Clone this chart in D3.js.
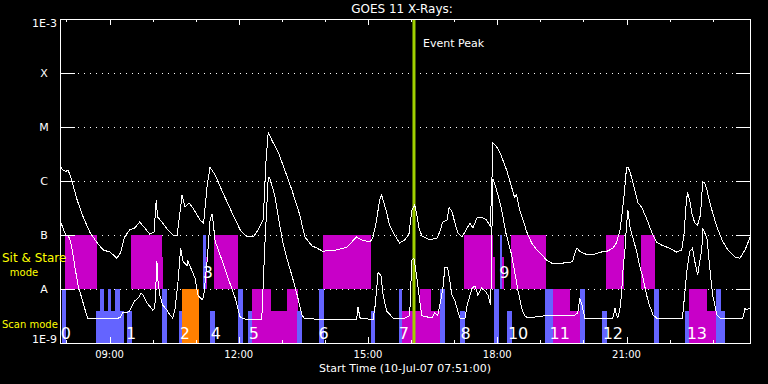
<!DOCTYPE html>
<html>
<head>
<meta charset="utf-8">
<script src="https://cdn.jsdelivr.net/npm/d3@7"></script>
<style>
body { margin: 0; background: #000; }
svg { display: block; }
text { font-family: "DejaVu Sans", sans-serif; fill: #fff; }
</style>
</head>
<body>
<script>
var startTime = "07:51", endTime = "23:52";
var eventTime = "16:04";

var fluxLevels = [1e-3, 1e-4, 1e-5, 1e-6, 1e-7, 1e-8, 1e-9];
var fluxNames = ["1E-3", "X", "M", "C", "B", "A", "1E-9"];

// GOES long channel (upper curve)
var longChannel = [
  ["07:51",1.9e-6],["07:55",1.6e-6],["07:59",1.5e-6],["08:02",1.6e-6],["08:05",1.3e-6],
  ["08:15",4.4e-7],["08:23",2.2e-7],["08:33",1.1e-7],["08:43",7.1e-8],["08:51",5.3e-8],
  ["09:01",4.8e-8],["09:05",4.3e-8],["09:10",3.7e-8],["09:15",4.6e-8],["09:21",9.2e-8],
  ["09:28",1.24e-7],["09:35",1.35e-7],["09:42",1.74e-7],["09:49",1.35e-7],["09:56",1.04e-7],
  ["10:02",1.14e-7],["10:05",4.4e-7],["10:07",2.15e-7],["10:14",1.67e-7],["10:21",1.24e-7],
  ["10:28",1.0e-7],["10:34",9.6e-8],["10:41",5.5e-7],["10:45",3.3e-7],["10:51",3.9e-7],
  ["10:56",3.2e-7],["11:06",1.9e-7],["11:11",1.67e-7],["11:16",8.4e-7],["11:20",1.8e-6],
  ["11:27",1.3e-6],["11:38",6.0e-7],["11:52",2.35e-7],["12:02",1.24e-7],["12:11",9.2e-8],
  ["12:20",9.2e-8],["12:27",1.24e-7],["12:34",1.9e-7],["12:38",2.45e-6],["12:41",8.1e-6],
  ["12:46",5.7e-6],["12:55",3.4e-6],["13:04",1.6e-6],["13:14",6.8e-7],["13:25",2.35e-7],
  ["13:32",9.2e-8],["13:42",6.3e-8],["13:49",5.7e-8],["13:57",5.0e-8],["14:17",5.3e-8],
  ["14:31",6.0e-8],["14:40",8.1e-8],["14:44",9.2e-8],["14:51",8.1e-8],["15:03",7.4e-8],
  ["15:07",9.2e-8],["15:12",1.9e-7],["15:16",4.4e-7],["15:19",5.5e-7],["15:25",2.9e-7],
  ["15:30",1.53e-7],["15:37",1.0e-7],["15:44",7.1e-8],["15:51",8.1e-8],["15:57",1.04e-7],
  ["16:01",2.9e-7],["16:05",3.6e-7],["16:08",2.35e-7],["16:11",1.35e-7],["16:15",9.6e-8],
  ["16:26",8.1e-8],["16:36",8.8e-8],["16:40",1.14e-7],["16:44",1.74e-7],["16:50",1.9e-7],
  ["16:53",3.2e-7],["16:57",2.7e-7],["17:01",1.67e-7],["17:05",1.09e-7],["17:11",9.2e-8],
  ["17:15",1.14e-7],["17:22",1.67e-7],["17:26",1.35e-7],["17:32",2.1e-7],["17:38",2.15e-7],
  ["17:45",1.9e-7],["17:50",1.47e-7],["17:52",5.5e-7],["17:54",5.0e-6],["17:59",4.3e-6],
  ["18:04",3.3e-6],["18:13",1.6e-6],["18:20",7.7e-7],["18:24",5.0e-7],["18:27",5.5e-7],
  ["18:31",2.9e-7],["18:36",1.9e-7],["18:41",1.14e-7],["18:48",7.1e-8],["18:55",5.3e-8],
  ["19:02",4.3e-8],["19:09",3.4e-8],["19:16",3.0e-8],["19:30",3.0e-8],["19:45",3.2e-8],
  ["19:48",4.6e-8],["19:51",5.7e-8],["19:55",5.0e-8],["20:05",4.3e-8],["20:13",4.3e-8],
  ["20:23",4.8e-8],["20:33",5.0e-8],["20:41",5.7e-8],["20:46",7.1e-8],["20:51",1.24e-7],
  ["20:56",4.4e-7],["21:00",1.74e-6],["21:02",1.82e-6],["21:05",1.47e-6],["21:09",9.2e-7],
  ["21:16",3.9e-7],["21:21",3.3e-7],["21:28",2.0e-7],["21:35",1.14e-7],["21:42",7.4e-8],
  ["21:49",6.5e-8],["22:00",5.7e-8],["22:10",4.8e-8],["22:17",5.3e-8],["22:20",1.0e-7],
  ["22:23",3.6e-7],["22:25",6.3e-7],["22:28",4.4e-7],["22:31",2.55e-7],["22:35",1.67e-7],
  ["22:39",1.53e-7],["22:43",2.35e-7],["22:46",9.2e-7],["22:49",9.2e-7],["22:52",6.8e-7],
  ["22:56",4.1e-7],["23:00",2.55e-7],["23:06",1.41e-7],["23:13",8.1e-8],["23:21",5.3e-8],
  ["23:31",3.9e-8],["23:38",3.7e-8],["23:45",5.3e-8],["23:49",7.1e-8],["23:52",9.2e-8]
];

// GOES short channel (lower curve)
var shortChannel = [
  ["07:51",1.9e-7],["07:55",1.35e-7],["07:59",1.0e-7],["08:02",1.0e-7],["08:05",8.1e-8],
  ["08:08",5.3e-8],["08:12",2.45e-8],["08:16",1.19e-8],["08:22",6.3e-9],["08:26",4.1e-9],
  ["08:30",2.8e-9],["08:47",2.8e-9],["09:10",2.8e-9],["09:15",3.0e-9],["09:19",3.7e-9],
  ["09:23",3.6e-9],["09:28",3.9e-9],["09:35",6.0e-9],["09:40",6.8e-9],["09:44",8.4e-9],
  ["09:47",7.7e-9],["09:52",5.5e-9],["09:56",4.8e-9],["10:00",4.1e-9],["10:03",4.4e-9],
  ["10:05",1.6e-8],["10:06",3.3e-8],["10:07",1.6e-8],["10:10",7.7e-9],["10:14",5.0e-9],
  ["10:20",4.1e-9],["10:24",3.3e-9],["10:28",2.9e-9],["10:31",4.1e-9],["10:35",1.19e-8],
  ["10:39",5.7e-8],["10:42",3.3e-8],["10:48",2.7e-8],["10:49",3.3e-8],["10:55",2.15e-8],
  ["10:59",1.6e-8],["11:03",7.7e-9],["11:09",6.3e-9],["11:11",7.1e-9],["11:16",3.4e-8],
  ["11:20",1.9e-7],["11:23",2.45e-7],["11:24",1.9e-7],["11:27",7.7e-8],["11:30",6.0e-8],
  ["11:37",3.3e-8],["11:45",1.6e-8],["11:55",6.8e-9],["12:02",3.0e-9],["12:11",2.7e-9],
  ["12:32",2.7e-9],["12:36",5.3e-8],["12:41",1.14e-6],["12:43",1.14e-6],["12:50",5.5e-7],
  ["12:57",1.53e-7],["13:01",7.7e-8],["13:08",3.3e-8],["13:15",1.6e-8],["13:22",7.1e-9],
  ["13:28",3.3e-9],["13:32",2.8e-9],["14:44",2.7e-9],["14:46",4.6e-9],["14:49",2.9e-9],
  ["15:07",2.7e-9],["15:10",5.0e-9],["15:14",2.0e-8],["15:18",1.8e-8],["15:21",7.7e-9],
  ["15:26",3.9e-9],["15:35",2.9e-9],["15:51",2.9e-9],["15:58",3.2e-9],["16:01",3.4e-8],
  ["16:04",3.7e-8],["16:08",1.6e-8],["16:12",6.0e-9],["16:15",3.2e-9],["16:29",2.9e-9],
  ["16:33",3.6e-9],["16:37",3.2e-9],["16:44",9.6e-9],["16:47",2.45e-8],["16:51",2.45e-8],
  ["16:57",7.7e-9],["17:01",6.0e-9],["17:05",3.9e-9],["17:08",2.9e-9],["17:15",2.9e-9],
  ["17:18",5.0e-9],["17:25",1.04e-8],["17:29",1.14e-8],["17:33",7.7e-9],["17:38",1.04e-8],
  ["17:43",9.2e-9],["17:47",7.7e-9],["17:51",5.0e-9],["17:52",5.3e-8],["17:54",1.09e-6],
  ["17:59",6.8e-7],["18:04",3.9e-7],["18:08",2.15e-7],["18:12",1.09e-7],["18:15",7.7e-8],
  ["18:20",4.3e-8],["18:24",2.15e-8],["18:29",9.2e-9],["18:34",4.4e-9],["18:38",3.2e-9],
  ["18:43",2.9e-9],["19:06",3.2e-9],["19:45",3.2e-9],["19:48",3.3e-9],["19:52",3.6e-9],
  ["19:55",6.8e-9],["19:58",5.0e-9],["20:02",2.9e-9],["20:41",2.9e-9],["20:44",4.4e-9],
  ["20:46",3.3e-9],["20:48",2.9e-9],["20:51",4.4e-9],["20:53",7.7e-9],["20:55",2.15e-8],
  ["20:58",5.7e-8],["21:00",1.53e-7],["21:02",2.9e-7],["21:05",1.35e-7],["21:09",8.8e-8],
  ["21:14",5.0e-8],["21:18",2.8e-8],["21:23",1.6e-8],["21:28",7.7e-9],["21:32",5.0e-9],
  ["21:37",3.3e-9],["21:42",2.9e-9],["22:18",2.9e-9],["22:24",2.15e-8],["22:28",5.0e-8],
  ["22:32",5.7e-8],["22:35",3.3e-8],["22:39",1.8e-8],["22:45",5.7e-8],["22:46",1.35e-7],
  ["22:52",8.8e-8],["22:56",2.45e-8],["23:00",7.7e-9],["23:06",3.3e-9],["23:10",2.9e-9],
  ["23:42",2.9e-9],["23:45",4.4e-9],["23:47",4.1e-9],["23:52",4.4e-9]
];

// observing blocks: start, end, colour key, height (fraction of band)
var scanBlocks = [
  ["07:54","07:59","b",1],["08:41","09:20","b",0.6],["08:47","08:52","b",1],
  ["08:58","09:02","b",1],["09:08","09:15","b",1],["09:24","09:31","b",0.6],
  ["10:13","10:20","b",1],["10:37","10:41","b",0.6],["10:41","11:05","o",1],
  ["11:20","11:27","b",0.6],["11:59","12:06","b",1],["12:13","12:18","b",0.6],
  ["12:18","12:45","m",1],["12:45","13:07","m",0.6],["13:07","13:22","m",1],
  ["13:21","13:28","b",0.6],["13:52","13:58","b",1],["15:04","15:10","b",0.6],
  ["15:43","15:48","b",1],["15:48","16:12","m",0.6],["16:12","16:28","m",1],
  ["16:28","16:40","m",0.6],["16:40","16:47","b",1],["17:08","17:15","b",0.6],
  ["17:55","18:02","b",1],["18:13","18:20","b",0.6],["19:06","19:17","b",1],
  ["19:17","19:42","m",1],["19:42","19:55","m",0.6],["19:55","20:02","b",1],
  ["20:26","20:33","b",0.6],["21:38","21:45","b",1],["22:21","22:27","b",0.6],
  ["22:27","22:52","m",1],["22:52","23:04","m",0.6],["23:04","23:11","b",1],
  ["23:11","23:17","b",0.6]
];
var stareBlocks = [
  ["07:58","08:42","m",1],["09:30","10:13","m",1],["10:13","10:14","m",0.6],
  ["11:10","11:14","b",1],["11:14","11:16","m",0.6],["11:25","11:59","m",1],
  ["13:57","15:04","m",1],["17:13","17:54","m",1],["17:54","17:57","m",0.6],
  ["18:04","18:06","b",1],["18:06","18:09","m",0.6],["18:19","19:08","m",1],
  ["20:31","20:56","m",1],["21:20","21:39","m",1]
];
var blockColors = { b: "#6464ff", m: "#c800c8", o: "#ff8000" };

var obsNames = ["0","1","2","3","4","5","6","7","8","9","10","11","12","13"];
var obsTimes = ["07:59","09:30","10:45","11:17","11:28","12:21","13:58","15:50",
                "17:16","18:10","18:29","19:27","20:41","22:38"];
var obsInStare = [0,0,0,1,0,0,0,0,0,1,0,0,0,0];

var W = 768, H = 384;
var pL = 60, pR = 750, pT = 19, pB = 343;
var parse = d3.timeParse("%H:%M");

var svg = d3.select("body").append("svg").attr("width", W).attr("height", H);
svg.append("rect").attr("width", W).attr("height", H).attr("fill", "#000");

var x = d3.scaleTime().domain([parse(startTime), parse(endTime)]).range([pL, pR]);
var y = d3.scaleLog().domain([1e-9, 1e-3]).range([pB, pT]);
var band = d3.scaleLinear().domain([0, 2]).range([pB, y(1e-7)]);

function px(t) { return Math.round(x(parse(t))); }
function py(d) { return Math.round(y(d)) + 0.5; }

// dotted grid
var inner = fluxLevels.slice(1, -1);
svg.selectAll(".grid").data(inner).enter().append("line")
  .attr("x1", 78).attr("x2", 736)
  .attr("y1", py).attr("y2", py)
  .attr("stroke", "#fff").attr("stroke-dasharray", "1,5");

// observing blocks
function drawBlocks(data, base) {
  svg.append("g").selectAll("rect").data(data).enter().append("rect")
    .attr("x", function(d) { return px(d[0]); })
    .attr("width", function(d) { return px(d[1]) - px(d[0]); })
    .attr("y", function(d) { return Math.round(band(base + d[3])); })
    .attr("height", function(d) { return Math.round(band(base)) - Math.round(band(base + d[3])); })
    .attr("fill", function(d) { return blockColors[d[2]]; })
    .attr("shape-rendering", "crispEdges");
}
drawBlocks(scanBlocks, 0);
drawBlocks(stareBlocks, 1);

// flux ticks on both sides
svg.selectAll(".ltick").data(inner).enter().append("line")
  .attr("x1", pL).attr("x2", 75).attr("y1", py).attr("y2", py)
  .attr("stroke", "#fff");
svg.selectAll(".rtick").data(inner).enter().append("line")
  .attr("x1", 736).attr("x2", pR).attr("y1", py).attr("y2", py)
  .attr("stroke", "#fff");

// event line
var ex = x(parse(eventTime));
svg.append("line").attr("x1", ex).attr("x2", ex).attr("y1", pT).attr("y2", pB)
  .attr("stroke", "#a0d000").attr("stroke-width", 3);

// light curves
var line = d3.line()
  .x(function(d) { return x(parse(d[0])); })
  .y(function(d) { return y(d[1]); });
[longChannel, shortChannel].forEach(function(s) {
  svg.append("path").datum(s).attr("d", line)
    .attr("fill", "none").attr("stroke", "#fff").attr("stroke-width", 1)
    .attr("shape-rendering", "crispEdges");
});

// frame and time ticks
svg.append("rect").attr("x", pL + 0.5).attr("y", pT + 0.5)
  .attr("width", pR - pL).attr("height", pB - pT)
  .attr("fill", "none").attr("stroke", "#fff");

var hours = x.ticks(d3.timeHour.every(1));
var majors = x.ticks(d3.timeHour.every(3));
function tickLen(d) { return d.getHours() % 3 === 0 ? 6 : 3; }
function tx(d) { return Math.round(x(d)) + 0.5; }
svg.selectAll(".ttick").data(hours).enter().append("line")
  .attr("x1", tx).attr("x2", tx)
  .attr("y1", pT).attr("y2", function(d) { return pT + tickLen(d); })
  .attr("stroke", "#fff");
svg.selectAll(".btick").data(hours).enter().append("line")
  .attr("x1", tx).attr("x2", tx)
  .attr("y1", pB).attr("y2", function(d) { return pB - tickLen(d); })
  .attr("stroke", "#fff");

svg.selectAll(".xlab").data(majors).enter().append("text")
  .attr("x", function(d) { return x(d); }).attr("y", 358)
  .attr("text-anchor", "middle").attr("font-size", 10)
  .text(d3.timeFormat("%H:%M"));

// flux labels
svg.selectAll(".ylab").data(fluxLevels).enter().append("text")
  .attr("x", function(d, i) { return (i === 0 || i === 6) ? 57 : 44; })
  .attr("y", function(d, i) { return i === 0 ? 27 : (i === 6 ? 343 : y(d) + 4); })
  .attr("text-anchor", function(d, i) { return (i === 0 || i === 6) ? "end" : "middle"; })
  .attr("font-size", 11)
  .text(function(d, i) { return fluxNames[i]; });

// observation numbers
svg.selectAll(".obs").data(obsNames).enter().append("text")
  .attr("x", function(d, i) { return x(parse(obsTimes[i])); })
  .attr("y", function(d, i) { return obsInStare[i] ? 278 : 339; })
  .attr("text-anchor", "middle").attr("font-size", 16)
  .text(function(d) { return d; });

svg.append("text").attr("x", 402).attr("y", 13).attr("text-anchor", "middle")
  .attr("font-size", 12).text("GOES 11 X-Rays:");
svg.append("text").attr("x", 423).attr("y", 47).attr("font-size", 11).text("Event Peak");
svg.append("text").attr("x", 405).attr("y", 372).attr("text-anchor", "middle")
  .attr("font-size", 11).text("Start Time (10-Jul-07 07:51:00)");

svg.append("text").attr("x", 2).attr("y", 262).attr("font-size", 12)
  .style("fill", "#ffff00").text("Sit & Stare");
svg.append("text").attr("x", 24).attr("y", 276).attr("text-anchor", "middle")
  .attr("font-size", 10).style("fill", "#ffff00").text("mode");
svg.append("text").attr("x", 2).attr("y", 328).attr("font-size", 10)
  .style("fill", "#ffff00").text("Scan mode");
</script>
</body>
</html>
